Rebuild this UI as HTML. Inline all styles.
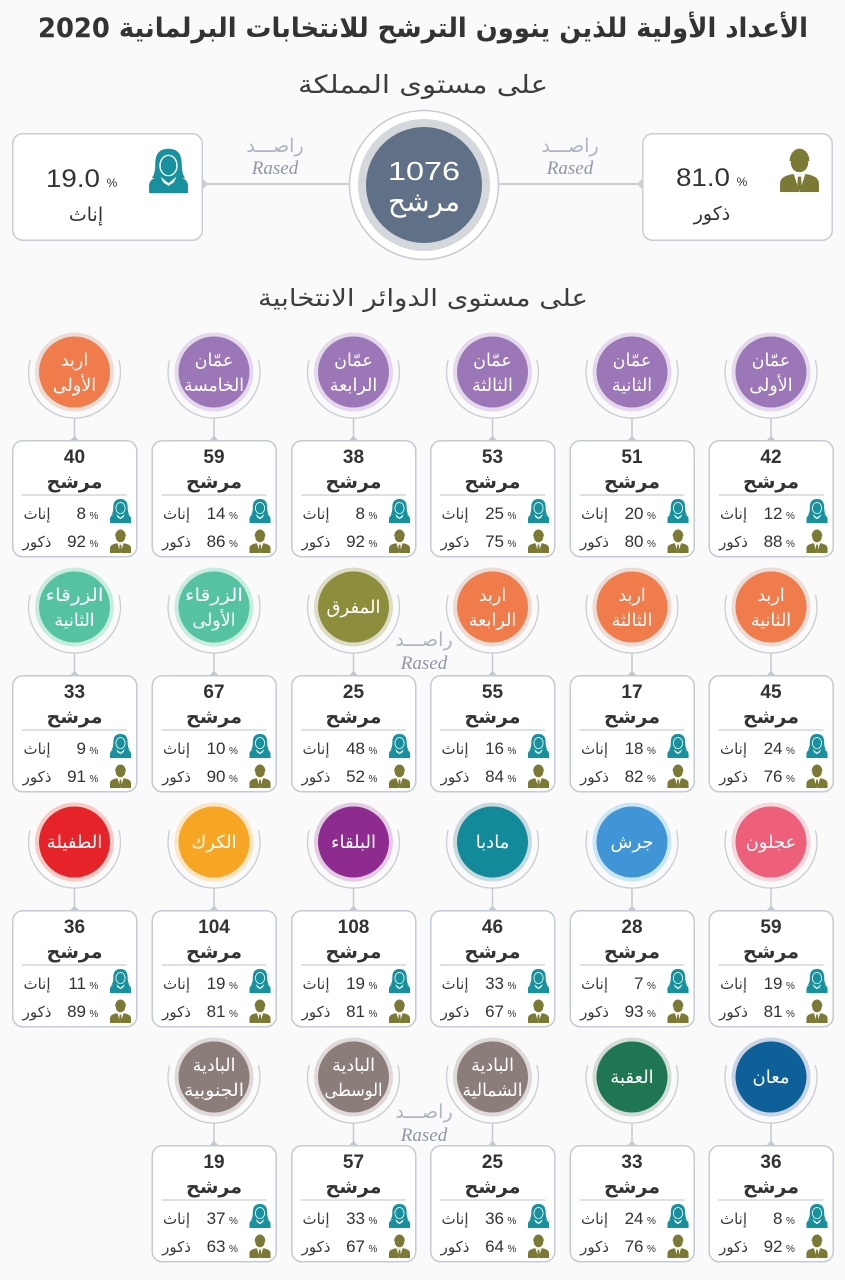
<!DOCTYPE html>
<html><head><meta charset="utf-8">
<style>
html,body{margin:0;padding:0;background:#fafafa;}
svg{display:block;}
.ar{font-family:"DejaVu Sans",sans-serif;}
.n{font-family:"Liberation Sans",sans-serif;font-weight:bold;font-size:19px;fill:#333;text-anchor:middle;}
.m{font-family:"DejaVu Sans",sans-serif;font-weight:bold;font-size:19px;fill:#333;text-anchor:middle;}
.v{font-family:"Liberation Sans",sans-serif;font-size:17px;fill:#333;text-anchor:end;}
.p{font-family:"Liberation Sans",sans-serif;font-size:10px;fill:#333;text-anchor:middle;}
.l{font-family:"DejaVu Sans",sans-serif;font-size:15px;fill:#3a3a3a;text-anchor:middle;}
.c{font-family:"DejaVu Sans",sans-serif;font-size:17.5px;fill:#fff;text-anchor:middle;}
.c1{font-family:"DejaVu Sans",sans-serif;font-size:18px;fill:#fff;text-anchor:middle;}
.ra{font-family:"DejaVu Sans",sans-serif;font-size:19px;fill:#aeb4c3;text-anchor:middle;}
.rs{font-family:"Liberation Serif",serif;font-style:italic;font-size:19px;fill:#8e96ab;text-anchor:middle;}
</style></head>
<body>
<svg width="845" height="1280" viewBox="0 0 845 1280" xmlns="http://www.w3.org/2000/svg">
<defs>
  <symbol id="fem" viewBox="0 0 24 26">
    <path d="M12 1 C6 1 4.5 5 4.5 10 C4.5 14 3.5 16.5 2.5 17.5 L21.5 17.5 C20.5 16.5 19.5 14 19.5 10 C19.5 5 18 1 12 1 Z" fill="#17919d"/>
    <ellipse cx="12" cy="10.5" rx="4.8" ry="5.8" fill="#17919d" stroke="#fff" stroke-width="0.8"/>
    <path d="M1 26 L1 22 C1 19 3 17.5 7 16.5 L17 16.5 C21 17.5 23 19 23 22 L23 26 Z" fill="#17919d"/>
    <path d="M7.5 16.8 L12 20.5 L16.5 16.8 L15 20 L12 22 L9 20 Z" fill="#fff"/>
  </symbol>
  <symbol id="mal" viewBox="0 0 24 26">
    <ellipse cx="12" cy="8.5" rx="5.6" ry="7" fill="#7b7a34"/>
    <path d="M6.6 8.5 C6.6 13 9 15.2 12 15.2 C15 15.2 17.4 13 17.4 8.5" fill="none" stroke="#fff" stroke-width="0.8"/>
    <path d="M1 26 L1 21.5 C1 18.5 3 17 7.5 16 L16.5 16 C21 17 23 18.5 23 21.5 L23 26 Z" fill="#7b7a34"/>
    <path d="M8.8 16 L12 26 L15.2 16 Z" fill="#fff"/>
    <path d="M11.1 17.3 L12.9 17.3 L13.3 23.5 L12 25.3 L10.7 23.5 Z" fill="#7b7a34"/>
  </symbol>
  <g id="ring">
    <path d="M44.4 -11.9 A46 46 0 1 1 -44.4 -11.9" fill="none" stroke="#c9ced3" stroke-width="1.3"/>
    <line x1="0" y1="46" x2="0" y2="68" stroke="#c3c9cf" stroke-width="1.5"/>
    <path d="M-4 68 L0 63.5 L4 68 Z" fill="#c3c9cf"/>
  </g>
  <g id="card">
    <rect x="0.75" y="0.75" width="124" height="116" rx="10" ry="10" fill="#fff" stroke="#c4cbd2" stroke-width="1.5"/>
    <line x1="10" y1="55" x2="115" y2="55" stroke="#b9c3cb" stroke-width="1"/>
    <use href="#fem" x="97" y="58" width="23" height="25"/>
    <use href="#mal" x="97" y="88" width="23" height="25"/>
  </g>
</defs>

<rect width="845" height="1280" fill="#fafafa"/>

<!-- Title -->
<text x="423" y="37" class="ar" font-weight="bold" font-size="27" fill="#333" text-anchor="middle" textLength="770" lengthAdjust="spacingAndGlyphs">الأعداد الأولية للذين ينوون الترشح للانتخابات البرلمانية 2020</text>
<text x="423" y="93" class="ar" font-size="25" fill="#3d3d3d" text-anchor="middle" textLength="250" lengthAdjust="spacingAndGlyphs">على مستوى المملكة</text>

<!-- connectors top -->
<line x1="203" y1="184" x2="349" y2="184" stroke="#c9ced3" stroke-width="2"/>
<line x1="499" y1="184" x2="642" y2="184" stroke="#c9ced3" stroke-width="2"/>
<path d="M203 179 L208 184 L203 189 Z" fill="#c9ced3"/>
<path d="M642 179 L637 184 L642 189 Z" fill="#c9ced3"/>

<!-- left box (female) -->
<rect x="12.75" y="133.75" width="189.5" height="106.5" rx="10" fill="#fff" stroke="#c9ced4" stroke-width="1.5"/>
<text x="100" y="187" font-family="Liberation Sans, sans-serif" font-size="25" fill="#333" text-anchor="end" textLength="54" lengthAdjust="spacingAndGlyphs">19.0</text>
<text x="112" y="187" font-family="Liberation Sans, sans-serif" font-size="12" fill="#333" text-anchor="middle">%</text>
<text x="86" y="221" class="ar" font-size="19" fill="#333" text-anchor="middle">إناث</text>
<use href="#fem" x="147" y="147" width="43" height="46"/>

<!-- right box (male) -->
<rect x="642.75" y="133.75" width="189.5" height="106.5" rx="10" fill="#fff" stroke="#c9ced4" stroke-width="1.5"/>
<text x="730" y="186" font-family="Liberation Sans, sans-serif" font-size="25" fill="#333" text-anchor="end" textLength="54" lengthAdjust="spacingAndGlyphs">81.0</text>
<text x="742" y="186" font-family="Liberation Sans, sans-serif" font-size="12" fill="#333" text-anchor="middle">%</text>
<text x="712" y="220" class="ar" font-size="19" fill="#333" text-anchor="middle">ذكور</text>
<use href="#mal" x="777" y="146" width="45" height="46"/>

<!-- Rased top -->
<text x="275" y="152" class="ra">راصـــد</text>
<text x="275" y="174" class="rs">Rased</text>
<text x="570" y="152" class="ra">راصـــد</text>
<text x="570" y="174" class="rs">Rased</text>

<!-- big circle -->
<circle cx="424" cy="185" r="74.5" fill="#fff" stroke="#c6ccd2" stroke-width="1.5"/>
<circle cx="424" cy="185" r="66" fill="#d4d8dd"/>
<circle cx="424" cy="185" r="58" fill="#607086"/>
<text x="424" y="180" font-family="Liberation Sans, sans-serif" font-size="26" fill="#fff" text-anchor="middle" textLength="72" lengthAdjust="spacingAndGlyphs">1076</text>
<text x="424" y="211" class="ar" font-size="28" fill="#fff" text-anchor="middle">مرشح</text>

<text x="423" y="306" class="ar" font-size="24" fill="#3d3d3d" text-anchor="middle" textLength="330" lengthAdjust="spacingAndGlyphs">على مستوى الدوائر الانتخابية</text>

<!-- ROW 1 circles -->
<g transform="translate(74.5,372)"><use href="#ring"/><circle r="39.5" fill="#ecdcd6"/><circle r="35.5" fill="#f07b4b"/><text y="-6" class="c">اربد</text><text y="19" class="c">الأولى</text></g>
<g transform="translate(214,372)"><use href="#ring"/><circle r="39.5" fill="#e3d8ec"/><circle r="35.5" fill="#9b77b8"/><text y="-6" class="c">عمّان</text><text y="19" class="c" textLength="60" lengthAdjust="spacingAndGlyphs">الخامسة</text></g>
<g transform="translate(353.5,372)"><use href="#ring"/><circle r="39.5" fill="#e3d8ec"/><circle r="35.5" fill="#9b77b8"/><text y="-6" class="c">عمّان</text><text y="19" class="c">الرابعة</text></g>
<g transform="translate(492.5,372)"><use href="#ring"/><circle r="39.5" fill="#e3d8ec"/><circle r="35.5" fill="#9b77b8"/><text y="-6" class="c">عمّان</text><text y="19" class="c">الثالثة</text></g>
<g transform="translate(632,372)"><use href="#ring"/><circle r="39.5" fill="#e3d8ec"/><circle r="35.5" fill="#9b77b8"/><text y="-6" class="c">عمّان</text><text y="19" class="c">الثانية</text></g>
<g transform="translate(771,372)"><use href="#ring"/><circle r="39.5" fill="#e3d8ec"/><circle r="35.5" fill="#9b77b8"/><text y="-6" class="c">عمّان</text><text y="19" class="c">الأولى</text></g>

<!-- ROW 1 cards -->
<g transform="translate(12,440)"><use href="#card"/><text x="62.5" y="23" class="n">40</text><text x="62.5" y="48" class="m">مرشح</text><text x="74" y="79" class="v">8</text><text x="82" y="79" class="p">%</text><text x="25" y="79" class="l">إناث</text><text x="74" y="107" class="v">92</text><text x="82" y="107" class="p">%</text><text x="25" y="107" class="l">ذكور</text></g>
<g transform="translate(151.5,440)"><use href="#card"/><text x="62.5" y="23" class="n">59</text><text x="62.5" y="48" class="m">مرشح</text><text x="74" y="79" class="v">14</text><text x="82" y="79" class="p">%</text><text x="25" y="79" class="l">إناث</text><text x="74" y="107" class="v">86</text><text x="82" y="107" class="p">%</text><text x="25" y="107" class="l">ذكور</text></g>
<g transform="translate(291,440)"><use href="#card"/><text x="62.5" y="23" class="n">38</text><text x="62.5" y="48" class="m">مرشح</text><text x="74" y="79" class="v">8</text><text x="82" y="79" class="p">%</text><text x="25" y="79" class="l">إناث</text><text x="74" y="107" class="v">92</text><text x="82" y="107" class="p">%</text><text x="25" y="107" class="l">ذكور</text></g>
<g transform="translate(430,440)"><use href="#card"/><text x="62.5" y="23" class="n">53</text><text x="62.5" y="48" class="m">مرشح</text><text x="74" y="79" class="v">25</text><text x="82" y="79" class="p">%</text><text x="25" y="79" class="l">إناث</text><text x="74" y="107" class="v">75</text><text x="82" y="107" class="p">%</text><text x="25" y="107" class="l">ذكور</text></g>
<g transform="translate(569.5,440)"><use href="#card"/><text x="62.5" y="23" class="n">51</text><text x="62.5" y="48" class="m">مرشح</text><text x="74" y="79" class="v">20</text><text x="82" y="79" class="p">%</text><text x="25" y="79" class="l">إناث</text><text x="74" y="107" class="v">80</text><text x="82" y="107" class="p">%</text><text x="25" y="107" class="l">ذكور</text></g>
<g transform="translate(708.5,440)"><use href="#card"/><text x="62.5" y="23" class="n">42</text><text x="62.5" y="48" class="m">مرشح</text><text x="74" y="79" class="v">12</text><text x="82" y="79" class="p">%</text><text x="25" y="79" class="l">إناث</text><text x="74" y="107" class="v">88</text><text x="82" y="107" class="p">%</text><text x="25" y="107" class="l">ذكور</text></g>

<!-- ROW 2 circles -->
<g transform="translate(74.5,607)"><use href="#ring"/><circle r="39.5" fill="#c9ece1"/><circle r="35.5" fill="#55c3a2"/><text y="-6" class="c" textLength="58" lengthAdjust="spacingAndGlyphs">الزرقاء</text><text y="19" class="c">الثانية</text></g>
<g transform="translate(214,607)"><use href="#ring"/><circle r="39.5" fill="#c9ece1"/><circle r="35.5" fill="#55c3a2"/><text y="-6" class="c" textLength="58" lengthAdjust="spacingAndGlyphs">الزرقاء</text><text y="19" class="c">الأولى</text></g>
<g transform="translate(353.5,607)"><use href="#ring"/><circle r="39.5" fill="#dcdcc7"/><circle r="35.5" fill="#8c8e3b"/><text y="6" class="c1">المفرق</text></g>
<g transform="translate(492.5,607)"><use href="#ring"/><circle r="39.5" fill="#ecdcd6"/><circle r="35.5" fill="#f07b4b"/><text y="-6" class="c">اربد</text><text y="19" class="c">الرابعة</text></g>
<g transform="translate(632,607)"><use href="#ring"/><circle r="39.5" fill="#ecdcd6"/><circle r="35.5" fill="#f07b4b"/><text y="-6" class="c">اربد</text><text y="19" class="c">الثالثة</text></g>
<g transform="translate(771,607)"><use href="#ring"/><circle r="39.5" fill="#ecdcd6"/><circle r="35.5" fill="#f07b4b"/><text y="-6" class="c">اربد</text><text y="19" class="c">الثانية</text></g>

<text x="424" y="646" class="ra">راصـــد</text>
<text x="424" y="669" class="rs">Rased</text>

<!-- ROW 2 cards -->
<g transform="translate(12,675)"><use href="#card"/><text x="62.5" y="23" class="n">33</text><text x="62.5" y="48" class="m">مرشح</text><text x="74" y="79" class="v">9</text><text x="82" y="79" class="p">%</text><text x="25" y="79" class="l">إناث</text><text x="74" y="107" class="v">91</text><text x="82" y="107" class="p">%</text><text x="25" y="107" class="l">ذكور</text></g>
<g transform="translate(151.5,675)"><use href="#card"/><text x="62.5" y="23" class="n">67</text><text x="62.5" y="48" class="m">مرشح</text><text x="74" y="79" class="v">10</text><text x="82" y="79" class="p">%</text><text x="25" y="79" class="l">إناث</text><text x="74" y="107" class="v">90</text><text x="82" y="107" class="p">%</text><text x="25" y="107" class="l">ذكور</text></g>
<g transform="translate(291,675)"><use href="#card"/><text x="62.5" y="23" class="n">25</text><text x="62.5" y="48" class="m">مرشح</text><text x="74" y="79" class="v">48</text><text x="82" y="79" class="p">%</text><text x="25" y="79" class="l">إناث</text><text x="74" y="107" class="v">52</text><text x="82" y="107" class="p">%</text><text x="25" y="107" class="l">ذكور</text></g>
<g transform="translate(430,675)"><use href="#card"/><text x="62.5" y="23" class="n">55</text><text x="62.5" y="48" class="m">مرشح</text><text x="74" y="79" class="v">16</text><text x="82" y="79" class="p">%</text><text x="25" y="79" class="l">إناث</text><text x="74" y="107" class="v">84</text><text x="82" y="107" class="p">%</text><text x="25" y="107" class="l">ذكور</text></g>
<g transform="translate(569.5,675)"><use href="#card"/><text x="62.5" y="23" class="n">17</text><text x="62.5" y="48" class="m">مرشح</text><text x="74" y="79" class="v">18</text><text x="82" y="79" class="p">%</text><text x="25" y="79" class="l">إناث</text><text x="74" y="107" class="v">82</text><text x="82" y="107" class="p">%</text><text x="25" y="107" class="l">ذكور</text></g>
<g transform="translate(708.5,675)"><use href="#card"/><text x="62.5" y="23" class="n">45</text><text x="62.5" y="48" class="m">مرشح</text><text x="74" y="79" class="v">24</text><text x="82" y="79" class="p">%</text><text x="25" y="79" class="l">إناث</text><text x="74" y="107" class="v">76</text><text x="82" y="107" class="p">%</text><text x="25" y="107" class="l">ذكور</text></g>

<!-- ROW 3 circles -->
<g transform="translate(74.5,842)"><use href="#ring"/><circle r="39.5" fill="#f6cbc6"/><circle r="35.5" fill="#e52329"/><text y="6" class="c1">الطفيلة</text></g>
<g transform="translate(214,842)"><use href="#ring"/><circle r="39.5" fill="#fbe5c3"/><circle r="35.5" fill="#f6a623"/><text y="6" class="c1">الكرك</text></g>
<g transform="translate(353.5,842)"><use href="#ring"/><circle r="39.5" fill="#e4cce4"/><circle r="35.5" fill="#8e2b8f"/><text y="6" class="c1">البلقاء</text></g>
<g transform="translate(492.5,842)"><use href="#ring"/><circle r="39.5" fill="#c9dade"/><circle r="35.5" fill="#138a9a"/><text y="6" class="c1">مادبا</text></g>
<g transform="translate(632,842)"><use href="#ring"/><circle r="39.5" fill="#cbe7f6"/><circle r="35.5" fill="#3f95d5"/><text y="6" class="c1">جرش</text></g>
<g transform="translate(771,842)"><use href="#ring"/><circle r="39.5" fill="#f3d8dd"/><circle r="35.5" fill="#ee6079"/><text y="6" class="c1">عجلون</text></g>

<!-- ROW 3 cards -->
<g transform="translate(12,910)"><use href="#card"/><text x="62.5" y="23" class="n">36</text><text x="62.5" y="48" class="m">مرشح</text><text x="74" y="79" class="v">11</text><text x="82" y="79" class="p">%</text><text x="25" y="79" class="l">إناث</text><text x="74" y="107" class="v">89</text><text x="82" y="107" class="p">%</text><text x="25" y="107" class="l">ذكور</text></g>
<g transform="translate(151.5,910)"><use href="#card"/><text x="62.5" y="23" class="n">104</text><text x="62.5" y="48" class="m">مرشح</text><text x="74" y="79" class="v">19</text><text x="82" y="79" class="p">%</text><text x="25" y="79" class="l">إناث</text><text x="74" y="107" class="v">81</text><text x="82" y="107" class="p">%</text><text x="25" y="107" class="l">ذكور</text></g>
<g transform="translate(291,910)"><use href="#card"/><text x="62.5" y="23" class="n">108</text><text x="62.5" y="48" class="m">مرشح</text><text x="74" y="79" class="v">19</text><text x="82" y="79" class="p">%</text><text x="25" y="79" class="l">إناث</text><text x="74" y="107" class="v">81</text><text x="82" y="107" class="p">%</text><text x="25" y="107" class="l">ذكور</text></g>
<g transform="translate(430,910)"><use href="#card"/><text x="62.5" y="23" class="n">46</text><text x="62.5" y="48" class="m">مرشح</text><text x="74" y="79" class="v">33</text><text x="82" y="79" class="p">%</text><text x="25" y="79" class="l">إناث</text><text x="74" y="107" class="v">67</text><text x="82" y="107" class="p">%</text><text x="25" y="107" class="l">ذكور</text></g>
<g transform="translate(569.5,910)"><use href="#card"/><text x="62.5" y="23" class="n">28</text><text x="62.5" y="48" class="m">مرشح</text><text x="74" y="79" class="v">7</text><text x="82" y="79" class="p">%</text><text x="25" y="79" class="l">إناث</text><text x="74" y="107" class="v">93</text><text x="82" y="107" class="p">%</text><text x="25" y="107" class="l">ذكور</text></g>
<g transform="translate(708.5,910)"><use href="#card"/><text x="62.5" y="23" class="n">59</text><text x="62.5" y="48" class="m">مرشح</text><text x="74" y="79" class="v">19</text><text x="82" y="79" class="p">%</text><text x="25" y="79" class="l">إناث</text><text x="74" y="107" class="v">81</text><text x="82" y="107" class="p">%</text><text x="25" y="107" class="l">ذكور</text></g>

<!-- ROW 4 circles -->
<g transform="translate(214,1077)"><use href="#ring"/><circle r="39.5" fill="#dedad9"/><circle r="35.5" fill="#8b7d79"/><text y="-6" class="c">البادية</text><text y="19" class="c" textLength="60" lengthAdjust="spacingAndGlyphs">الجنوبية</text></g>
<g transform="translate(353.5,1077)"><use href="#ring"/><circle r="39.5" fill="#dedad9"/><circle r="35.5" fill="#8b7d79"/><text y="-6" class="c">البادية</text><text y="19" class="c" textLength="58" lengthAdjust="spacingAndGlyphs">الوسطى</text></g>
<g transform="translate(492.5,1077)"><use href="#ring"/><circle r="39.5" fill="#dedad9"/><circle r="35.5" fill="#8b7d79"/><text y="-6" class="c">البادية</text><text y="19" class="c" textLength="60" lengthAdjust="spacingAndGlyphs">الشمالية</text></g>
<g transform="translate(632,1077)"><use href="#ring"/><circle r="39.5" fill="#d3ddd7"/><circle r="35.5" fill="#1e7652"/><text y="6" class="c1">العقبة</text></g>
<g transform="translate(771,1077)"><use href="#ring"/><circle r="39.5" fill="#c9d5e6"/><circle r="35.5" fill="#0e6198"/><text y="6" class="c1">معان</text></g>

<text x="424" y="1118" class="ra">راصـــد</text>
<text x="424" y="1141" class="rs">Rased</text>

<!-- ROW 4 cards -->
<g transform="translate(151.5,1145)"><use href="#card"/><text x="62.5" y="23" class="n">19</text><text x="62.5" y="48" class="m">مرشح</text><text x="74" y="79" class="v">37</text><text x="82" y="79" class="p">%</text><text x="25" y="79" class="l">إناث</text><text x="74" y="107" class="v">63</text><text x="82" y="107" class="p">%</text><text x="25" y="107" class="l">ذكور</text></g>
<g transform="translate(291,1145)"><use href="#card"/><text x="62.5" y="23" class="n">57</text><text x="62.5" y="48" class="m">مرشح</text><text x="74" y="79" class="v">33</text><text x="82" y="79" class="p">%</text><text x="25" y="79" class="l">إناث</text><text x="74" y="107" class="v">67</text><text x="82" y="107" class="p">%</text><text x="25" y="107" class="l">ذكور</text></g>
<g transform="translate(430,1145)"><use href="#card"/><text x="62.5" y="23" class="n">25</text><text x="62.5" y="48" class="m">مرشح</text><text x="74" y="79" class="v">36</text><text x="82" y="79" class="p">%</text><text x="25" y="79" class="l">إناث</text><text x="74" y="107" class="v">64</text><text x="82" y="107" class="p">%</text><text x="25" y="107" class="l">ذكور</text></g>
<g transform="translate(569.5,1145)"><use href="#card"/><text x="62.5" y="23" class="n">33</text><text x="62.5" y="48" class="m">مرشح</text><text x="74" y="79" class="v">24</text><text x="82" y="79" class="p">%</text><text x="25" y="79" class="l">إناث</text><text x="74" y="107" class="v">76</text><text x="82" y="107" class="p">%</text><text x="25" y="107" class="l">ذكور</text></g>
<g transform="translate(708.5,1145)"><use href="#card"/><text x="62.5" y="23" class="n">36</text><text x="62.5" y="48" class="m">مرشح</text><text x="74" y="79" class="v">8</text><text x="82" y="79" class="p">%</text><text x="25" y="79" class="l">إناث</text><text x="74" y="107" class="v">92</text><text x="82" y="107" class="p">%</text><text x="25" y="107" class="l">ذكور</text></g>
</svg>
</body></html>
